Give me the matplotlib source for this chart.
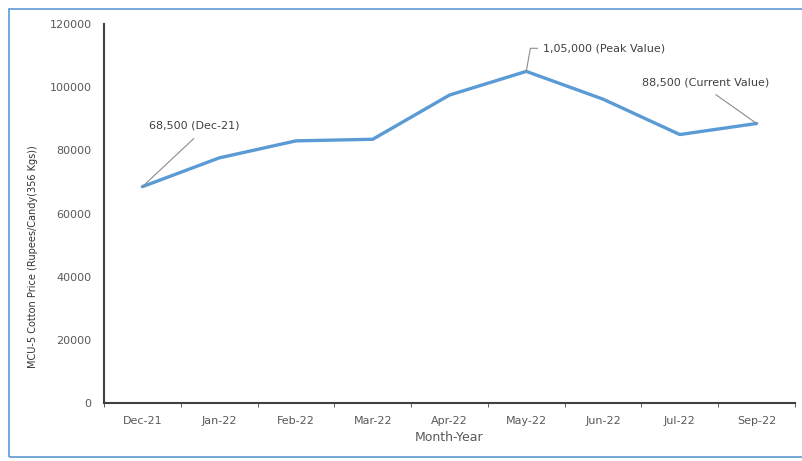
import matplotlib.pyplot as plt
import numpy as np
from matplotlib.patches import Rectangle

months = ['Dec-21', 'Jan-22', 'Feb-22', 'Mar-22', 'Apr-22', 'May-22', 'Jun-22', 'Jul-22', 'Sep-22']
price = [68500, 77600, 83000, 83500, 97500, 105000, 96200, 85000, 88500]
yticks = [0, 20000, 40000, 60000, 80000, 100000, 120000]

W, H = 803, 461
fig = plt.figure(figsize=(W / 100, H / 100), dpi=100)
ax = fig.add_axes([104 / W, 1 - 403 / H, (795 - 104) / W, (403 - 24) / H])

x = np.arange(len(months))
ax.plot(x, price, color='#5B9BD5', lw=2.4, solid_capstyle='round', zorder=3)

ax.set_xlim(-0.5, len(months) - 0.5)
ax.set_ylim(0, 120000)
ax.set_yticks(yticks)
ax.set_yticklabels([str(v) for v in yticks])
ax.set_xticks(x)
ax.set_xticklabels(months)
ax.set_xticks(np.arange(len(months) + 1) - 0.5, minor=True)
ax.tick_params(axis='x', which='major', length=0, pad=9, labelsize=8, labelcolor='#595959')
ax.tick_params(axis='x', which='minor', length=3, color='#404040', direction='out')
ax.tick_params(axis='y', length=0, pad=9, labelsize=8, labelcolor='#595959')

for s in ['top', 'right']:
    ax.spines[s].set_visible(False)
for s in ['left', 'bottom']:
    ax.spines[s].set_color('#404040')
    ax.spines[s].set_linewidth(1.5)

ax.set_xlabel('Month-Year', fontsize=9, color='#595959', labelpad=4)
ax.set_ylabel('MCU-5 Cotton Price (Rupees/Candy(356 Kgs))', fontsize=7, color='#333333')
ax.yaxis.set_label_coords(-0.096, 0.385)

lc = '#8c8c8c'
ax.annotate('68,500 (Dec-21)', xy=(0, price[0]), xytext=(0.08, 88000),
            fontsize=8, color='#404040', ha='left', va='center',
            arrowprops=dict(arrowstyle='-', color=lc, lw=0.8, shrinkA=6, shrinkB=0,
                            relpos=(0.6, 0)))
ax.annotate('1,05,000 (Peak Value)', xy=(5, price[5]), xytext=(5.22, 112300),
            fontsize=8, color='#404040', ha='left', va='center',
            arrowprops=dict(arrowstyle='-', color=lc, lw=0.8, shrinkA=2, shrinkB=0,
                            connectionstyle='angle,angleA=0,angleB=80,rad=0'))
ax.annotate('88,500 (Current Value)', xy=(8, price[8]), xytext=(7.33, 101600),
            fontsize=8, color='#404040', ha='center', va='center',
            arrowprops=dict(arrowstyle='-', color=lc, lw=0.8, shrinkA=6, shrinkB=0,
                            relpos=(0.5, 0)))

fig.patches.append(Rectangle((9 / W, 4 / H), 1, (457 - 9) / H, transform=fig.transFigure,
                             fill=False, edgecolor='#5B9BD5', lw=1.2))

fig.savefig('out.png', dpi=100)
